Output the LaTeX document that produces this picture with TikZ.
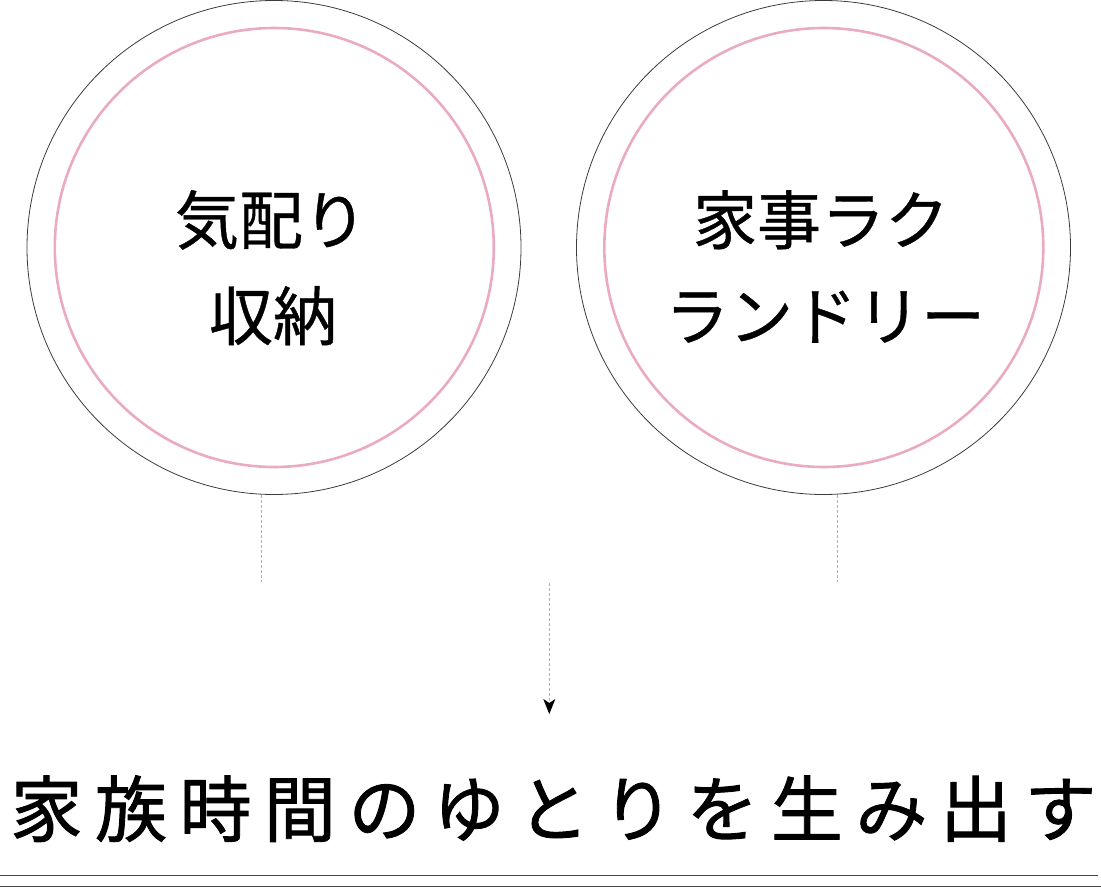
\documentclass[tikz,border=0pt]{standalone}
\usepackage{fontspec}
\newfontfamily\cjk{Noto Sans CJK JP}
\newfontfamily\cjkbold[FakeBold=0.6]{Noto Sans CJK JP}
\newfontfamily\cjktitle[FakeBold=1.2]{Noto Sans CJK JP}
\usetikzlibrary{arrows.meta}
\definecolor{pinkline}{RGB}{235,170,196}
\definecolor{ringline}{RGB}{60,60,60}
\definecolor{dashline}{RGB}{175,175,175}
\definecolor{ruleline}{RGB}{70,70,70}
\newcommand\trk{\hspace{12.5pt}}
\begin{document}
\begin{tikzpicture}[x=1pt,y=-1pt,
  outerring/.style={circle,draw=ringline,line width=0.8pt,inner sep=0pt,minimum size=494pt},
  innerring/.style={circle,draw=pinkline,line width=2.6pt,inner sep=0pt,minimum size=439pt},
  ringtext/.style={inner sep=0pt,anchor=base,font=\cjkbold\fontsize{64}{64}\selectfont},
  titletext/.style={inner sep=0pt,anchor=base,font=\cjktitle\fontsize{72}{72}\selectfont},
  dashlink/.style={draw=dashline,line width=0.8pt,dash pattern=on 3pt off 2pt},
  rule/.style={draw=ruleline,line width=1pt}]
\useasboundingbox (0,0) rectangle (1101,888);
% circles
\node[outerring] (lo) at (274,247.5) {};
\node[innerring] (li) at (274.3,247.5) {};
\node[outerring] (ro) at (823.5,247.5) {};
\node[innerring] (ri) at (823.8,247.5) {};
% circle texts
\node[ringtext] (l1) at (271,244) {気配り};
\node[ringtext] (l2) at (273,340) {収納};
\node[ringtext] (r1) at (821,244) {家事ラク};
\node[ringtext] (r2) at (825,340) {ランドリー};
% connectors
\coordinate (ls) at (261.3,495);
\coordinate (le) at (261.3,582);
\coordinate (rs) at (837.3,495);
\coordinate (re) at (837.3,582);
\coordinate (as) at (549.3,583);
\coordinate (ae) at (549.3,714);
\draw[dashlink] (ls) -- (le);
\draw[dashlink] (rs) -- (re);
\draw[dashlink,-{Stealth[length=15pt,width=12pt,inset=4pt,color=black]}] (as) -- (ae);
% title
\node[titletext] (title) at (553.5,836) {家\trk 族\trk 時\trk 間\trk の\trk ゆ\trk と\trk り\trk を\trk 生\trk み\trk 出\trk す};
% rules
\coordinate (t1) at (0,875);
\coordinate (t2) at (1098,875);
\coordinate (b1) at (0,886.7);
\coordinate (b2) at (1101,886.7);
\draw[rule] (t1) -- (t2);
\draw[rule] (b1) -- (b2);
\end{tikzpicture}
\end{document}
